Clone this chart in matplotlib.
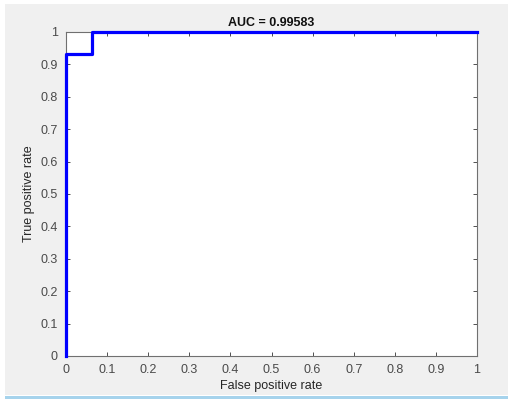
import matplotlib.pyplot as plt
from matplotlib.patches import Rectangle

# ROC curve points (false positive rate, true positive rate)
fpr = [0, 0, 0.0625, 0.0625, 1]
tpr = [0, 14/15, 14/15, 1, 1]
auc = 0.99583
ticks = [0, 0.1, 0.2, 0.3, 0.4, 0.5, 0.6, 0.7, 0.8, 0.9, 1]
tick_labels = ['0', '0.1', '0.2', '0.3', '0.4', '0.5', '0.6', '0.7', '0.8', '0.9', '1']

plt.rcParams['font.family'] = ['Liberation Sans', 'DejaVu Sans']

W, H = 508, 403
fig = plt.figure(figsize=(W / 100, H / 100), dpi=100)
fig.patch.set_facecolor('white')

# gray window background and light blue strip underneath
fig.patches.append(Rectangle((5 / W, 1 - 395 / H), 1 - 5 / W, 391 / H,
                             transform=fig.transFigure, facecolor='#f0f0f0',
                             edgecolor='none', zorder=-10))
fig.patches.append(Rectangle((5 / W, 1 - 399 / H), 1 - 5 / W, 3 / H,
                             transform=fig.transFigure, facecolor='#a6d3ec',
                             edgecolor='none', zorder=-10))

ax = fig.add_axes([66 / W, 1 - 356 / H, 411 / W, 324 / H])
ax.set_facecolor('white')

# line drawn on top of spines
ax.plot(fpr, tpr, color='#0000ff', linewidth=2.3, clip_on=False, zorder=5)

ax.set_xlim(0, 1)
ax.set_ylim(0, 1)
ax.set_xticks(ticks)
ax.set_xticklabels(tick_labels)
ax.set_yticks(ticks)
ax.set_yticklabels(tick_labels)

for s in ax.spines.values():
    s.set_color('#707070')
    s.set_linewidth(0.8)
ax.tick_params(direction='in', top=True, right=True, length=3, width=0.7,
               color='#505050', labelsize=9, labelcolor='#4a4a4a', pad=6)

ax.set_xlabel('False positive rate', fontsize=9, color='#262626', labelpad=3)
ax.set_ylabel('True positive rate', fontsize=9, color='#262626', labelpad=4)
ax.set_title('AUC = %.5f' % auc, fontsize=9, fontweight='bold', color='#111111', pad=4)

fig.savefig('out.png', dpi=100, facecolor=fig.get_facecolor())
